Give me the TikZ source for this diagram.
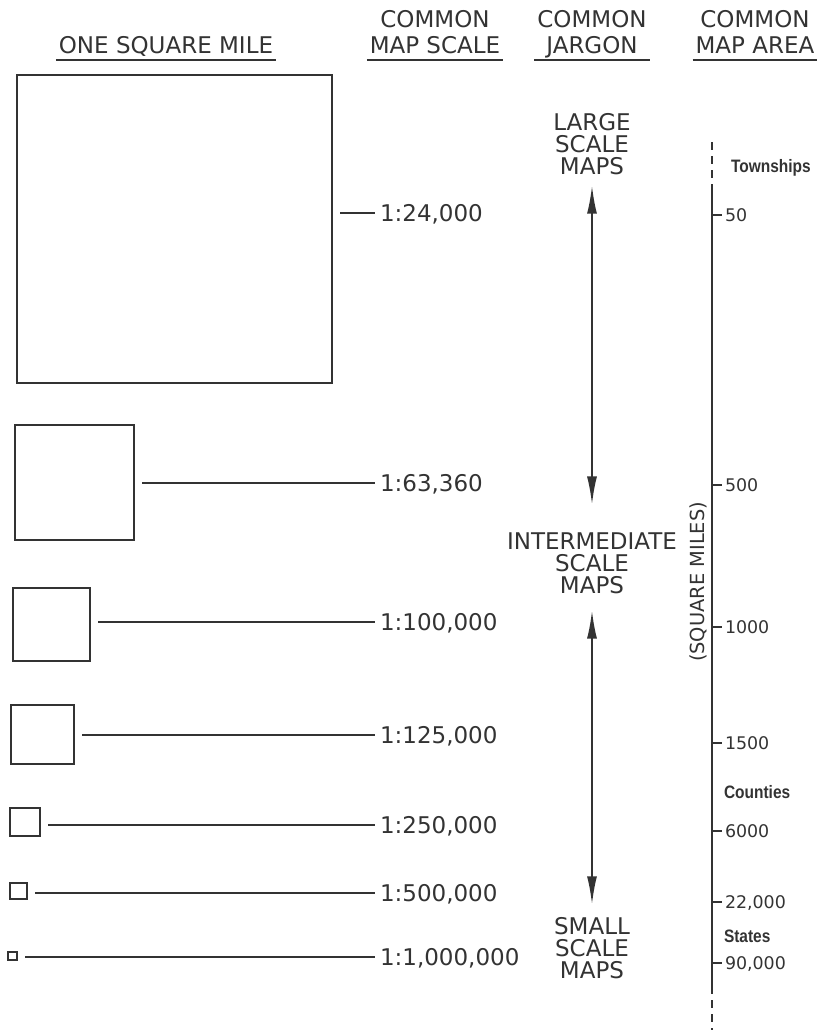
\documentclass[tikz,border=0pt]{standalone}
\usepackage{fontspec}
\setmainfont{DejaVu Sans}
\newfontfamily\narrowbold{Liberation Sans}[FakeStretch=0.86]
\usepackage{tikz}
\usetikzlibrary{arrows.meta}
\definecolor{ink}{HTML}{333333}

\begin{document}
\begin{tikzpicture}[x=0.5pt,y=-0.5pt,line width=1pt,draw=ink,
  lettering/.style={font=\fontsize{11.5}{12}\selectfont,text=ink,inner sep=0pt},
  head/.style={lettering,font=\fontsize{11.5}{13}\selectfont,align=center,anchor=south,inner xsep=1pt,inner ysep=3pt,text depth=0pt},
  mile/.style={draw=ink,line width=1.3pt,inner sep=0pt},
  scalelab/.style={lettering,anchor=west,inner sep=2pt,text depth=0pt},
  lead/.style={line width=0.9pt,shorten <=3.5pt},
  jargon/.style={lettering,align=center,font=\fontsize{11.5}{11}\selectfont},
  jarrow/.style={{Latex[length=14pt,width=5pt]}-{Latex[length=14pt,width=5pt]},line width=0.9pt},
  areanum/.style={font=\fontsize{8.7}{9}\selectfont,text=ink,anchor=west,inner sep=1pt,text depth=0pt},
  region/.style={font=\narrowbold\bfseries\fontsize{9}{9}\selectfont,text=ink,anchor=west,inner sep=0pt}]
\useasboundingbox (0,0) rectangle (823,1030);
% column heads
\node[head] (hmile) at (166,60) {ONE SQUARE MILE};\draw[line width=1pt] (hmile.south west)--(hmile.south east);
\node[head] (hscale) at (435,60) {COMMON\\MAP SCALE};\draw[line width=1pt] (hscale.south west)--(hscale.south east);
\node[head] (hjargon) at (592,60) {COMMON\\JARGON};\draw[line width=1pt] (hjargon.south west)--(hjargon.south east);
\node[head] (harea) at (755,60) {COMMON\\MAP AREA};\draw[line width=1pt] (harea.south west)--(harea.south east);
% one square mile at each scale
\node[mile,minimum width=157.5pt,minimum height=154pt] (sq1) at (174.5,229) {};\node[scalelab] (lab1) at (375,213) {1:24,000};
\node[mile,minimum width=59.5pt,minimum height=57.5pt] (sq2) at (74.5,482.5) {};\node[scalelab] (lab2) at (375,483) {1:63,360};
\node[mile,minimum width=38.5pt,minimum height=36.5pt] (sq3) at (51.5,624.5) {};\node[scalelab] (lab3) at (375,622) {1:100,000};
\node[mile,minimum width=31.5pt,minimum height=29.5pt] (sq4) at (42.5,734.5) {};\node[scalelab] (lab4) at (375,735) {1:125,000};
\node[mile,minimum width=15pt,minimum height=14pt] (sq5) at (25,822) {};\node[scalelab] (lab5) at (375,825) {1:250,000};
\node[mile,minimum width=8.5pt,minimum height=8pt] (sq6) at (18.5,891) {};\node[scalelab] (lab6) at (375,893) {1:500,000};
\node[mile,minimum width=4.5pt,minimum height=4pt] (sq7) at (12.5,956) {};\node[scalelab] (lab7) at (375,957) {1:1,000,000};
\draw[lead] (sq1.east |- lab1.west)--(lab1.west);\draw[lead] (sq2.east |- lab2.west)--(lab2.west);
\draw[lead] (sq3.east |- lab3.west)--(lab3.west);\draw[lead] (sq4.east |- lab4.west)--(lab4.west);
\draw[lead] (sq5.east |- lab5.west)--(lab5.west);\draw[lead] (sq6.east |- lab6.west)--(lab6.west);
\draw[lead] (sq7.east |- lab7.west)--(lab7.west);
% jargon
\node[jargon] (large) at (592,144) {LARGE\\SCALE\\MAPS};
\node[jargon] (inter) at (592,563) {INTERMEDIATE\\SCALE\\MAPS};
\node[jargon] (small) at (592,948) {SMALL\\SCALE\\MAPS};
\draw[jarrow,shorten <=5pt,shorten >=13.5pt] (large.south)--(inter.north);
\draw[jarrow,shorten <=8pt,shorten >=6pt] (inter.south)--(small.north);
% map area axis
\coordinate (ax1) at (712,142);\coordinate (ax2) at (712,189);\coordinate (ax3) at (712,986);\coordinate (ax4) at (712,1030);
\draw[dash pattern=on 4pt off 3pt] (ax1)--(ax2);\draw (ax2)--(ax3);\draw[dash pattern=on 4pt off 3pt] (ax3)--(ax4);
\node[lettering,rotate=90,font=\fontsize{9.7}{10}\selectfont] (unit) at (698,582) {(SQUARE MILES)};
\node[areanum] (a1) at (722,215) {50};\draw (a1.west -| ax2)--(a1.west);
\node[areanum] (a2) at (722,485) {500};\draw (a2.west -| ax2)--(a2.west);
\node[areanum] (a3) at (722,627) {1000};\draw (a3.west -| ax2)--(a3.west);
\node[areanum] (a4) at (722,743) {1500};\draw (a4.west -| ax2)--(a4.west);
\node[areanum] (a5) at (722,831) {6000};\draw (a5.west -| ax2)--(a5.west);
\node[areanum] (a6) at (722,902) {22,000};\draw (a6.west -| ax2)--(a6.west);
\node[areanum] (a7) at (722,963) {90,000};\draw (a7.west -| ax2)--(a7.west);
\node[region] (town) at (730,168) {Townships};
\node[region] (county) at (723,792) {Counties};
\node[region] (state) at (723,936) {States};
\end{tikzpicture}
\end{document}
